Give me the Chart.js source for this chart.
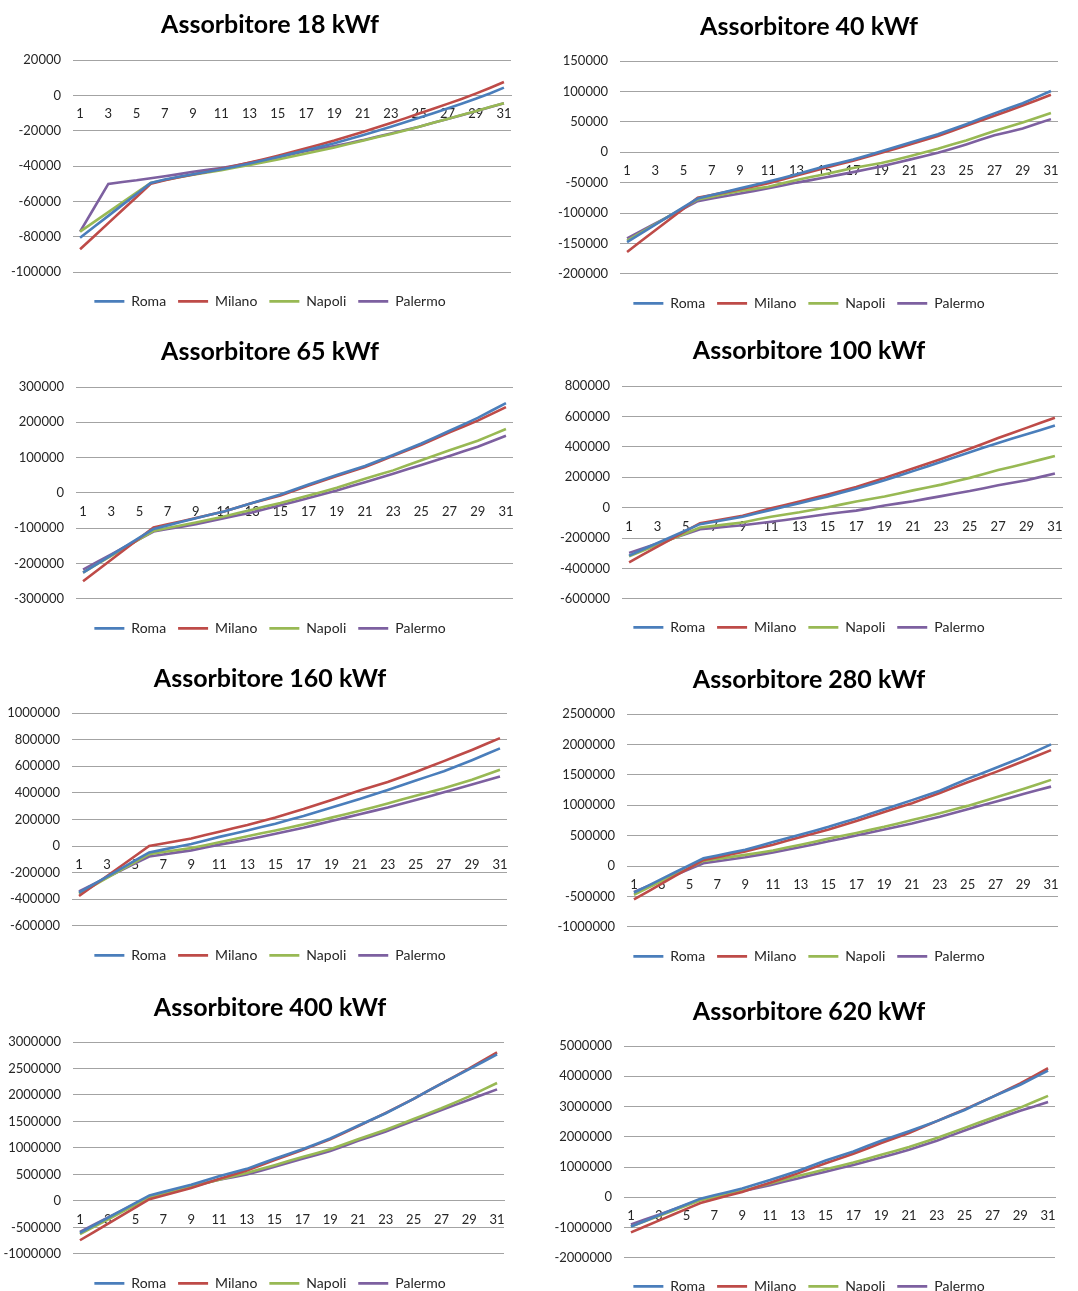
<!DOCTYPE html>
<html>
<head>
<meta charset="utf-8">
<script src="https://cdn.jsdelivr.net/npm/chart.js@4.4.1/dist/chart.umd.min.js"></script>
<style>
  body { margin: 0; background: #fff; width: 1078px; height: 1291px; position: relative; overflow: hidden; }
  canvas { position: absolute; }
</style>
</head>
<body>
<script>
// categories (years) and series names
const days = ['1','2','3','4','5','6','7','8','9','10','11','12','13','14','15','16','17','18','19','20','21','22','23','24','25','26','27','28','29','30','31'];
const cities = ['Roma', 'Milano', 'Napoli', 'Palermo'];
const titles = ['Assorbitore 18 kWf', 'Assorbitore 40 kWf', 'Assorbitore 65 kWf', 'Assorbitore 100 kWf',
                'Assorbitore 160 kWf', 'Assorbitore 280 kWf', 'Assorbitore 400 kWf', 'Assorbitore 620 kWf'];

// y axis ranges (min, max, step) per chart
const yMin  = [-100000, -200000, -300000, -600000, -600000, -1000000, -1000000, -2000000];
const yMax  = [20000, 150000, 300000, 800000, 1000000, 2500000, 3000000, 5000000];
const yStep = [20000, 50000, 100000, 200000, 200000, 500000, 500000, 1000000];

// 18 kWf
const roma18 = [-80500,-74300,-68100,-61900,-55700,-49500,-47500,-46000,-44600,-43200,-41800,-40200,-38500,-36700,-34800,-32900,-31000,-29000,-27000,-24800,-22500,-20100,-17700,-15200,-12700,-10100,-7400,-4700,-1900,1100,4400];
const milano18 = [-87000,-79600,-72200,-64800,-57400,-50000,-48000,-46300,-44700,-43100,-41500,-39800,-38000,-36100,-34100,-32000,-29900,-27700,-25500,-23100,-20700,-18200,-15600,-13000,-10300,-7600,-4800,-2000,1000,4200,7600];
const napoli18 = [-77000,-71500,-66000,-60500,-55000,-49500,-47800,-46300,-44900,-43600,-42300,-40800,-39300,-37800,-36200,-34500,-32800,-31100,-29400,-27500,-25600,-23700,-21800,-19800,-17700,-15500,-13300,-11100,-8900,-6600,-4400];
const palermo18 = [-77000,-63500,-50000,-49000,-48000,-46800,-45700,-44500,-43200,-42100,-41000,-39600,-38100,-36500,-34900,-33200,-31400,-30000,-28600,-27000,-25300,-23400,-21500,-19600,-17700,-15500,-13300,-11200,-9000,-6700,-4400];

// 40 kWf
const roma40 = [-148000,-133600,-119200,-104800,-90400,-76000,-70500,-65000,-59500,-54000,-48300,-42300,-36100,-29800,-23300,-17800,-12200,-5300,1700,8600,15600,22500,29400,37700,46100,55000,63900,72200,80600,90600,100600];
const milano40 = [-164000,-146200,-128400,-110600,-92800,-75000,-70300,-65700,-61100,-56100,-51100,-44700,-38300,-32200,-26100,-20000,-13900,-7500,-1100,5800,12800,19700,26700,35000,43300,51600,60000,68300,76700,85500,94400];
const napoli40 = [-145600,-132000,-118500,-104900,-91400,-77800,-73200,-68500,-63900,-60300,-56700,-51200,-45600,-40900,-36100,-31100,-26100,-22000,-17800,-12300,-6700,-600,5600,12500,19400,27200,35000,42000,48900,56700,64400];
const palermo40 = [-141700,-129500,-117300,-105000,-92800,-80600,-76300,-72100,-67800,-63600,-59400,-54700,-50000,-45900,-41700,-37300,-32800,-28100,-23300,-17800,-12200,-6700,-1100,5800,12800,20300,27800,33400,38900,46700,54400];

// 65 kWf
const roma65 = [-225700,-200900,-176200,-151400,-126700,-101900,-92000,-82000,-72000,-62000,-52400,-40500,-28600,-16700,-4800,9500,23800,37200,50500,63400,76200,91900,107600,123800,140000,158100,176200,194300,212400,233400,254300];
const milano65 = [-250500,-220000,-189600,-159100,-128600,-98100,-89000,-80200,-71400,-61900,-52400,-40500,-28600,-18100,-7600,6700,21000,34300,47600,60500,73300,89100,104800,120500,136200,153800,171400,188100,204800,223900,242900];
const napoli65 = [-225700,-202100,-178500,-154800,-131200,-107600,-99700,-91700,-83800,-75300,-66700,-57200,-47600,-38100,-28600,-18100,-7600,3400,14300,27200,40000,51900,63800,78100,92400,106700,121000,134300,147600,164300,181000];
const palermo65 = [-217100,-195600,-174100,-152500,-131000,-109500,-102500,-95600,-88600,-80000,-71400,-63300,-55200,-45200,-35200,-24800,-14300,-3800,6700,18600,30500,42400,54300,66700,79000,91900,104800,117700,130500,146200,161900];

// 100 kWf
const roma100 = [-315600,-274300,-232900,-191600,-150200,-108900,-92600,-76300,-60000,-37800,-15600,6700,28900,51100,73300,98900,124400,152200,180000,210000,240000,271100,302200,333300,364400,395000,425000,455000,482000,511000,540000];
const milano100 = [-360000,-308400,-256900,-205300,-153800,-102200,-85900,-69600,-53300,-28900,-4400,17800,40000,63300,86700,111100,135600,165600,195600,226700,257800,288900,320000,353300,386700,422200,457800,491100,524400,557800,591100];
const napoli100 = [-320000,-282200,-244400,-206700,-168900,-131100,-120000,-108900,-97800,-78900,-60000,-45600,-31100,-14400,2200,21100,40000,56700,73300,93300,113300,132200,151100,173300,195600,221100,246700,268900,291100,315600,340000];
const palermo100 = [-297800,-266700,-235600,-204400,-173300,-142200,-133300,-124400,-115600,-104400,-93300,-81100,-68900,-55600,-42200,-31100,-20000,-3300,13300,27800,42200,58900,75600,92200,108900,127800,146700,163300,180000,202200,224400];

// 160 kWf
const roma160 = [-351000,-290500,-229900,-169400,-108800,-48300,-27200,-6000,15200,41900,68600,92800,116900,142300,167700,196900,226100,257900,289600,321400,353100,387400,421700,457300,492900,527200,561500,603400,645300,689800,734200];
const milano160 = [-376400,-301100,-225800,-150600,-75300,0,18900,37700,56600,82000,107400,132800,158200,186200,214100,245900,277600,311900,346200,381800,417300,449100,480800,518900,557000,597700,638300,680200,722100,766600,811000];
const napoli160 = [-358700,-299200,-239600,-180100,-120500,-61000,-45700,-30500,-15200,6400,27900,50800,73700,95300,116900,139800,162600,188000,213400,238800,264200,292100,320000,349300,378500,406400,434300,466100,497800,535900,574000];
const palermo160 = [-341000,-288500,-236100,-183600,-131200,-78700,-63500,-48200,-33000,-11400,10200,29300,48300,69900,91400,114300,137200,162600,188000,213400,238800,264200,289600,317600,345500,374700,403900,433100,462300,492800,523200];

// 280 kWf
const roma280 = [-438900,-325600,-212200,-98900,14500,127800,174100,220400,266700,330600,394400,455600,516700,580600,644400,713900,783300,858300,933300,1008300,1083300,1161100,1238900,1336100,1433300,1522200,1611100,1702800,1794400,1897200,2000000];
const milano280 = [-550000,-420000,-290000,-160000,-30000,100000,146300,192600,238900,294400,350000,413900,477800,538900,600000,669400,738900,813900,888900,961100,1033300,1116700,1200000,1288900,1377800,1461100,1544400,1633300,1722200,1813900,1905600];
const napoli280 = [-472200,-361100,-250000,-138900,-27800,83300,116700,150000,183300,219400,255600,302800,350000,400000,450000,497200,544400,594400,644400,700000,755600,811100,866700,927800,988900,1058300,1127800,1197200,1266700,1341700,1416700];
const palermo280 = [-427800,-333400,-238900,-144400,-50000,44400,77800,111100,144400,183300,222200,266700,311100,358300,405600,452800,500000,550000,600000,650000,700000,755600,811100,872200,933300,994400,1055600,1119400,1183300,1244400,1305600];

// 400 kWf
const roma400 = [-604300,-463100,-321900,-180600,-39400,101800,169600,237500,305300,384900,464400,534400,604300,699800,795200,884200,973200,1075000,1176800,1297700,1418500,1536200,1653900,1790700,1927400,2070500,2213600,2350400,2487100,2627100,2767000];
const milano400 = [-744200,-589000,-433800,-278600,-123400,31800,101800,171700,241700,327600,413500,493000,572500,671100,769700,865100,960500,1062300,1164100,1285000,1405800,1533000,1660200,1793800,1927400,2070500,2213600,2356700,2499800,2652500,2805200];
const napoli400 = [-629700,-491000,-352400,-213700,-75100,63600,129300,195100,260800,330800,400700,464400,528000,601200,674300,750600,826900,900100,973200,1068700,1164100,1253200,1342200,1444000,1545700,1647500,1749300,1860700,1972000,2099200,2226400];
const palermo400 = [-585200,-451600,-318000,-184500,-50900,82700,146300,209900,273500,337100,400700,448500,496200,569400,642500,718900,795200,868300,941400,1036900,1132300,1221400,1310400,1412200,1513900,1615700,1717400,1812800,1908200,2006800,2105400];

// 620 kWf
const roma620 = [-968800,-783900,-599100,-414200,-229400,-44500,66800,178200,289500,428700,567900,718300,868600,1041200,1213800,1364200,1514500,1692700,1870800,2026800,2182700,2349800,2516800,2700600,2884300,3101500,3318600,3519100,3719500,3953300,4187100];
const milano620 = [-1158100,-964300,-770600,-576800,-383100,-189300,-66800,55700,178200,328500,478800,634700,790600,957700,1124700,1280600,1436500,1614700,1792900,1960000,2127100,2322000,2516800,2711700,2906600,3112600,3318600,3541300,3764000,4014600,4265100];
const napoli620 = [-968800,-795100,-621400,-447600,-273900,-100200,3700,107700,211600,334100,456600,579100,701600,813000,924300,1035700,1147000,1275100,1403100,1531200,1659300,1809700,1960000,2127000,2294000,2461100,2628100,2795200,2962200,3157100,3352000];
const palermo620 = [-902000,-737200,-572400,-407600,-242800,-78000,14800,107600,200400,300700,400900,512300,623600,735000,846300,957700,1069100,1191600,1314000,1442100,1570200,1720500,1870800,2037900,2204900,2372000,2539000,2700000,2860000,3000000,3151500];

const seriesByChart = [
  [roma18, milano18, napoli18, palermo18],
  [roma40, milano40, napoli40, palermo40],
  [roma65, milano65, napoli65, palermo65],
  [roma100, milano100, napoli100, palermo100],
  [roma160, milano160, napoli160, palermo160],
  [roma280, milano280, napoli280, palermo280],
  [roma400, milano400, napoli400, palermo400],
  [roma620, milano620, napoli620, palermo620]
];

const cityColors = ['#4a7ebb', '#be4b48', '#98b954', '#7d60a0'];
const GRID = '#a3a3a3';
const TEXT = '#262626';

// canvas box [x, y, w, h], plot [left, right, top, bottom], title centre y, legend centre y (page px)
const boxes = [
  [0, 0, 540, 326, 73, 511, 60, 269.5, 25, 300],
  [540, 0, 538, 326, 620, 1058, 61, 271, 27, 302],
  [0, 328, 540, 328, 76, 513, 387, 596, 352, 627],
  [540, 328, 538, 328, 622, 1062, 386, 596, 351, 626],
  [0, 658, 540, 325, 72, 507, 713, 923, 679, 954],
  [540, 658, 538, 325, 627, 1058, 714, 924, 680, 955],
  [0, 984, 540, 312, 73, 504, 1042, 1251, 1008, 1282],
  [540, 984, 538, 312, 624, 1055, 1046, 1255, 1012, 1285]
];

const TITLE_SIZE = 25;
const TITLE_LH = TITLE_SIZE * 1.2;
const LEG_FONT = 14;
const LEG_PAD = 12;
const LEGEND_H = LEG_FONT * 1.2 + LEG_PAD + 10;
const LEGEND_MID = LEG_PAD + LEG_FONT * 0.6;

Chart.defaults.font.family = 'Lato, "Open Sans", sans-serif';

// push the legend a bit lower than chart.js puts it
const legendNudge = {
  id: 'legendNudge',
  afterLayout(chart, args, opts) {
    const lg = chart.legend;
    if (!lg || !opts.dy) return;
    lg.top += opts.dy;
    lg.bottom += opts.dy;
  }
};

titles.forEach((title, i) => {
  const [bx, by, bw, bh, pl, pr, pt, pb, ty, ly] = boxes[i];
  const canvas = document.createElement('canvas');
  canvas.width = bw;
  canvas.height = bh;
  canvas.style.left = bx + 'px';
  canvas.style.top = by + 'px';
  document.body.appendChild(canvas);

  const titleTop = ty - by - TITLE_LH / 2;
  const titleBottom = pt - by - titleTop - TITLE_LH;
  const padBottom = Math.max(0, bh - (pb - by) - LEGEND_H);
  const dy = ly - (pb + LEGEND_MID);

  new Chart(canvas, {
    type: 'line',
    data: {
      labels: days,
      datasets: cities.map((city, k) => ({
        label: city,
        data: seriesByChart[i][k],
        borderColor: cityColors[k],
        backgroundColor: cityColors[k],
        borderWidth: 2.6,
        pointRadius: 0,
        tension: 0,
        fill: false
      }))
    },
    options: {
      responsive: false,
      animation: false,
      layout: { padding: { top: 0, left: 0, right: 0, bottom: padBottom } },
      plugins: {
        title: {
          display: true,
          text: title,
          color: '#000',
          font: { size: TITLE_SIZE, weight: 'bold' },
          padding: { top: titleTop, bottom: titleBottom }
        },
        legend: {
          position: 'bottom',
          labels: {
            usePointStyle: true,
            pointStyle: 'line',
            pointStyleWidth: 30,
            padding: LEG_PAD,
            color: TEXT,
            font: { size: LEG_FONT }
          }
        },
        legendNudge: { dy: dy },
        tooltip: { enabled: false }
      },
      scales: {
        x: {
          position: { y: 0 },
          offset: true,
          grid: { display: false },
          border: { color: GRID },
          ticks: {
            autoSkip: false,
            maxRotation: 0,
            color: TEXT,
            font: { size: 13 },
            callback: (v, k) => (k % 2 === 0 ? days[k] : '')
          }
        },
        y: {
          min: yMin[i],
          max: yMax[i],
          grid: { color: GRID, drawTicks: false },
          border: { display: false },
          ticks: {
            stepSize: yStep[i],
            color: TEXT,
            font: { size: 13 },
            padding: 12,
            callback: v => String(v)
          },
          afterFit: s => { s.width = pl - bx; }
        },
        yr: {
          position: 'right',
          grid: { display: false },
          border: { display: false },
          ticks: { display: false },
          afterFit: s => { s.width = bx + bw - pr; }
        }
      }
    },
    plugins: [legendNudge]
  });
});
</script>
</body>
</html>
